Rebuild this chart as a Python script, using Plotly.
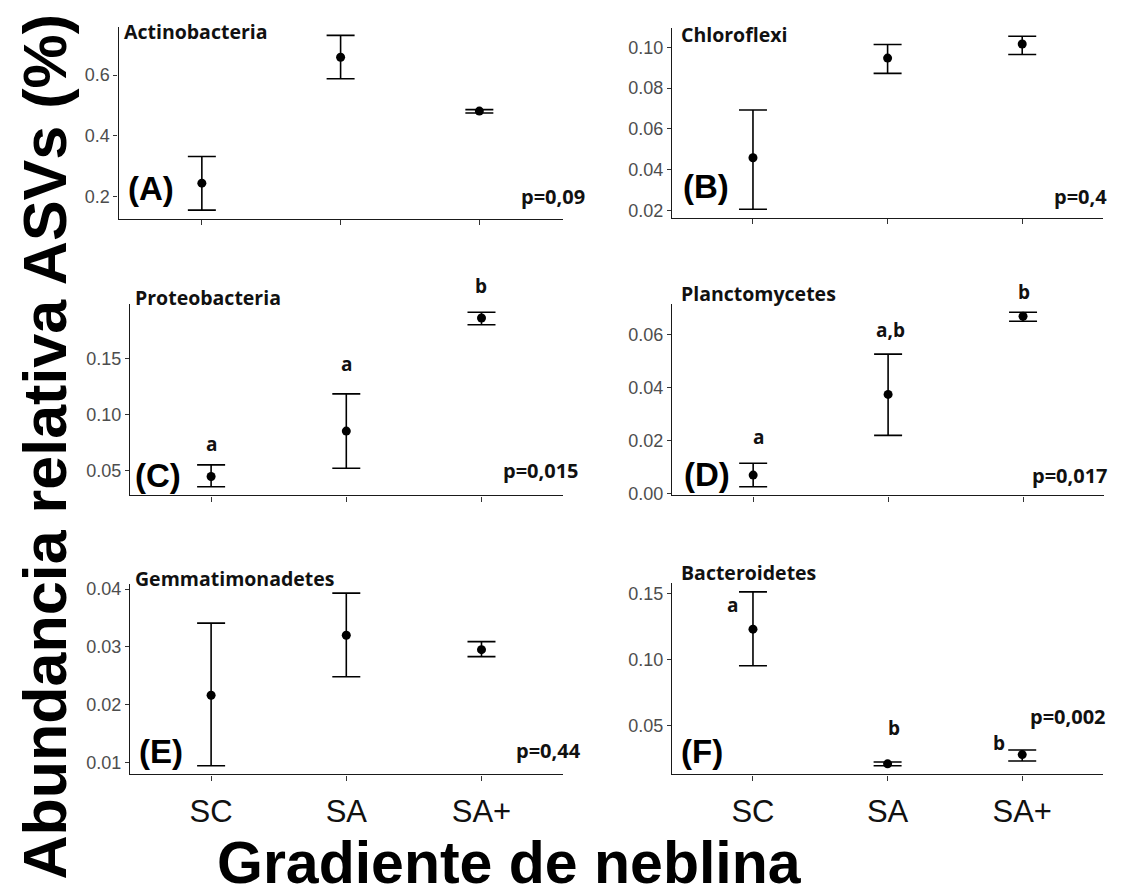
import plotly.graph_objects as go

# ---------------- data ----------------
categories = ["SC", "SA", "SA+"]
phyla = ["Actinobacteria", "Chloroflexi", "Proteobacteria",
         "Planctomycetes", "Gemmatimonadetes", "Bacteroidetes"]
panel_labels = ["(A)", "(B)", "(C)", "(D)", "(E)", "(F)"]
p_values = ["p=0,09", "p=0,4", "p=0,015", "p=0,017", "p=0,44", "p=0,002"]

actino_mean = [0.243, 0.659, 0.481]
actino_upper = [0.331, 0.731, 0.486]
actino_lower = [0.154, 0.588, 0.475]

chloro_mean = [0.0458, 0.0947, 0.1016]
chloro_upper = [0.0692, 0.1014, 0.1054]
chloro_lower = [0.0205, 0.0872, 0.0965]

proteo_mean = [0.0449, 0.0853, 0.186]
proteo_upper = [0.0553, 0.1184, 0.191]
proteo_lower = [0.0358, 0.0523, 0.180]

plancto_mean = [0.0069, 0.0374, 0.0669]
plancto_upper = [0.0114, 0.0526, 0.0684]
plancto_lower = [0.0025, 0.0219, 0.0650]

gemma_mean = [0.0216, 0.0320, 0.0295]
gemma_upper = [0.0341, 0.0393, 0.0309]
gemma_lower = [0.0094, 0.0248, 0.0283]

bactero_mean = [0.1231, 0.0209, 0.0279]
bactero_upper = [0.1514, 0.0223, 0.0314]
bactero_lower = [0.0953, 0.0195, 0.0230]

proteo_letters = ["a", "a", "b"]
plancto_letters = ["a", "a,b", "b"]
bactero_letters = ["a", "b", "b"]

# ---------------- layout helpers ----------------
W, H = 1122, 896


def fx(px):
    return px / W


def fy(px):
    return 1 - px / H


series = [
    (actino_mean, actino_upper, actino_lower, None),
    (chloro_mean, chloro_upper, chloro_lower, None),
    (proteo_mean, proteo_upper, proteo_lower, proteo_letters),
    (plancto_mean, plancto_upper, plancto_lower, plancto_letters),
    (gemma_mean, gemma_upper, gemma_lower, None),
    (bactero_mean, bactero_upper, bactero_lower, bactero_letters),
]

# pixel geometry / styling per panel
geom = [
    dict(x0=118.6, x1=562.6, top=22, bot=217, dtick=0.2, fmt=".1f",
         t_dx=3, t_dy=-5, l_dx=7, l_dy=30, p_dx=24, p_dy=22),
    dict(x0=672.2, x1=1103, top=23, bot=216, dtick=0.02, fmt=".2f",
         t_dx=7, t_dy=-7, l_dx=9, l_dy=31, p_dx=6, p_dy=21),
    dict(x0=130, x1=562.6, top=303, bot=497.7, dtick=0.05, fmt=".2f",
         t_dx=3, t_dy=6, l_dx=3, l_dy=20, p_dx=18, p_dy=25),
    dict(x0=672.2, x1=1104, top=303, bot=497.7, dtick=0.02, fmt=".2f",
         t_dx=7, t_dy=10, l_dx=10, l_dy=21, p_dx=6, p_dy=20),
    dict(x0=130, x1=562.6, top=588, bot=780.7, dtick=0.01, fmt=".2f",
         t_dx=3, t_dy=6, l_dx=7, l_dy=23, p_dx=20, p_dy=24),
    dict(x0=672.2, x1=1103, top=586.7, bot=780.7, dtick=0.05, fmt=".2f",
         t_dx=7, t_dy=11, l_dx=7, l_dy=23, p_dx=5, p_dy=58),
]

# letter offsets (pixels) relative to the upper end of the error bar
letter_shift = {
    2: [(0, 21), (0, 30), (0, 26)],
    3: [(5, 26), (2, 24), (1, 20)],
    5: [(-20, -13), (6, 34), (-23, 7)],
}

TICK_FONT = "Liberation Sans, Arial, sans-serif"
BOLD_FONT = "Open Sans, Noto Sans, sans-serif"

fig = go.Figure()
annotations = []
layout = {}

for i, ((mean, up, lo, letters), g) in enumerate(zip(series, geom)):
    n = i + 1
    xa = "xaxis" if n == 1 else f"xaxis{n}"
    ya = "yaxis" if n == 1 else f"yaxis{n}"
    xr = "x" if n == 1 else f"x{n}"
    yr = "y" if n == 1 else f"y{n}"

    plus = [u - m for u, m in zip(up, mean)]
    minus = [m - l for m, l in zip(mean, lo)]
    fig.add_trace(go.Scatter(
        x=categories, y=mean, mode="markers", xaxis=xr, yaxis=yr,
        marker=dict(color="black", size=9),
        error_y=dict(type="data", array=plus, arrayminus=minus,
                     color="black", thickness=1.6, width=14),
        showlegend=False, cliponaxis=False,
    ))

    vmin, vmax = min(lo), max(up)
    pad = 0.05 * (vmax - vmin)

    bottom_row = n in (5, 6)
    layout[xa] = dict(
        domain=[fx(g["x0"]), fx(g["x1"])], anchor=yr,
        type="category", categoryorder="array", categoryarray=categories,
        range=[-0.6, 2.6], showgrid=False, zeroline=False,
        showline=True, linecolor="#1a1a1a", linewidth=1.4,
        ticks="outside", ticklen=5, tickwidth=1.2, tickcolor="#333333",
        showticklabels=bottom_row, ticklabelstandoff=4,
        tickfont=dict(family=TICK_FONT, size=31, color="#111111"),
    )
    layout[ya] = dict(
        domain=[fy(g["bot"]), fy(g["top"])], anchor=xr,
        range=[vmin - pad, vmax + pad], showgrid=False, zeroline=False,
        showline=True, linecolor="#1a1a1a", linewidth=1.4,
        ticks="outside", ticklen=4, tickwidth=1.2, tickcolor="#333333",
        dtick=g["dtick"], tick0=0, tickformat=g["fmt"],
        tickfont=dict(family=TICK_FONT, size=18, color="#4D4D4D"),
    )

    # phylum title
    annotations.append(dict(
        text=f"<b>{phyla[i]}</b>", xref=f"{xr} domain", yref=f"{yr} domain",
        x=0, y=1, xanchor="left", yanchor="middle",
        xshift=g["t_dx"], yshift=g["t_dy"], showarrow=False,
        font=dict(family=BOLD_FONT, size=19.5, color="#111111"),
    ))
    # panel label
    annotations.append(dict(
        text=f"<b>{panel_labels[i]}</b>", xref=f"{xr} domain", yref=f"{yr} domain",
        x=0, y=0, xanchor="left", yanchor="middle",
        xshift=g["l_dx"], yshift=g["l_dy"], showarrow=False,
        font=dict(family=TICK_FONT, size=33, color="black"),
    ))
    # p-value
    annotations.append(dict(
        text=f"<b>{p_values[i]}</b>", xref=f"{xr} domain", yref=f"{yr} domain",
        x=1, y=0, xanchor="right", yanchor="middle",
        xshift=g["p_dx"], yshift=g["p_dy"], showarrow=False,
        font=dict(family=BOLD_FONT, size=20, color="#111111"),
    ))
    # significance letters
    if letters is not None:
        for k, (cat, u, lt) in enumerate(zip(categories, up, letters)):
            dx, dy = letter_shift[i][k]
            annotations.append(dict(
                text=f"<b>{lt}</b>", xref=xr, yref=yr, x=cat, y=u,
                xanchor="center", yanchor="middle", xshift=dx, yshift=dy,
                showarrow=False,
                font=dict(family=BOLD_FONT, size=19, color="#111111"),
            ))

# global axis titles
annotations.append(dict(
    text="<b>Abundancia relativa ASVs (%)</b>", xref="paper", yref="paper",
    x=fx(44), y=fy(448), xanchor="center", yanchor="middle", textangle=-90,
    showarrow=False, font=dict(family=TICK_FONT, size=61, color="black"),
))
annotations.append(dict(
    text="<b>Gradiente de neblina</b>", xref="paper", yref="paper",
    x=fx(509), y=fy(871), xanchor="center", yanchor="middle",
    showarrow=False, font=dict(family=TICK_FONT, size=59, color="black"),
))

fig.update_layout(
    width=W, height=H, margin=dict(l=0, r=0, t=0, b=0),
    paper_bgcolor="white", plot_bgcolor="white",
    showlegend=False, annotations=annotations, **layout,
)

fig.write_html("out.html")
